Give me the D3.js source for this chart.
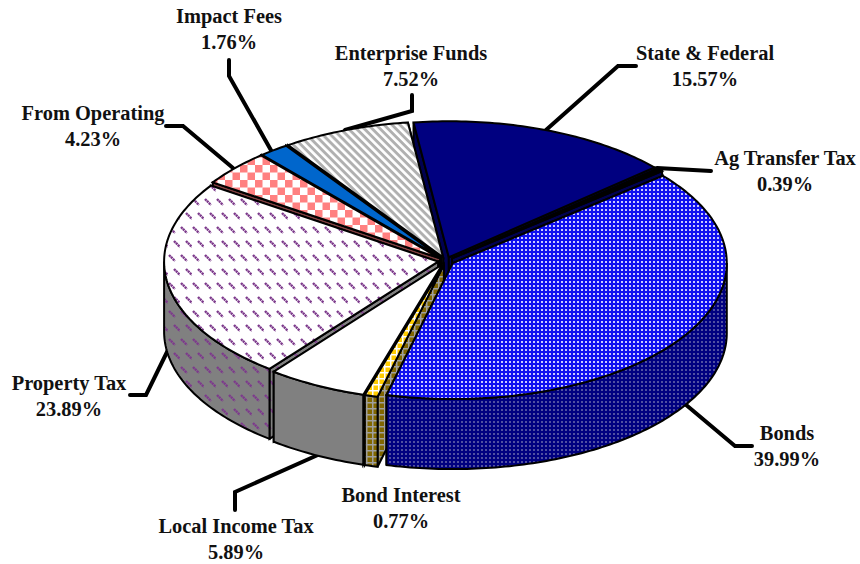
<!DOCTYPE html>
<html>
<head>
<meta charset="utf-8">
<script src="https://cdn.jsdelivr.net/npm/d3@7"></script>
<style>
  html, body { margin: 0; padding: 0; background: #fff; }
  text { font-family: "Liberation Serif", serif; font-weight: bold; font-size: 20.4px; fill: #111; text-anchor: middle; }
</style>
</head>
<body>
<div id="pie-visualization"></div>
<script>
// values
var categories = ["State & Federal", "Ag Transfer Tax", "Bonds", "Bond Interest", "Local Income Tax",
  "Property Tax", "From Operating", "Impact Fees", "Enterprise Funds"];
var percents = [15.57, 0.39, 39.99, 0.77, 5.89, 23.89, 4.23, 1.76, 7.52];

// style of each slice, same order as categories
var topFills = ["#000080", "#000000", "url(#bondsTop)", "url(#goldTop)", "#ffffff",
  "url(#propTop)", "url(#checkTop)", "#0066cc", "url(#stripeTop)"];
var wallFills = ["#000050", "#000050", "url(#bondsWall)", "url(#goldWall)", "#808080",
  "url(#propWall)", "#804040", "#003366", "#3a3a3a"];

// back to front, the way the slices overlap in the picture
var drawOrder = [0, 1, 8, 7, 6, 5, 4, 3, 2];

// label centre + first baseline, and leader polyline (label end first)
var labelPos = [[705, 60], [785, 165], [787, 440], [401, 502], [236, 533], [69, 390], [93, 120], [229, 23], [411, 60]];
var leaders = [
  [[636, 66], [618, 66], [546, 130]],
  [[711, 171], [657, 168]],
  [[752, 446], [735, 446], [685, 404]],
  [],
  [[235, 510], [235, 492], [320, 454]],
  [[130, 395], [146, 395], [168, 350]],
  [[166, 126], [183, 126], [233, 168]],
  [[229, 60], [229, 76], [272, 152]],
  [[412, 95], [412, 111], [345, 130]]
];

var width = 860, height = 564;
var cx = 446, cy = 261, rx = 274, ry = 136, depth = 70, explode = 8;
var startDeg = -7.4;

var svg = d3.select("#pie-visualization").append("svg")
  .attr("width", width)
  .attr("height", height)
  .style("display", "block");

// fill patterns
var defs = svg.append("defs");

function addPattern(id, w, h, bg, transform) {
  var p = defs.append("pattern")
    .attr("id", id)
    .attr("patternUnits", "userSpaceOnUse")
    .attr("width", w)
    .attr("height", h);
  if (transform) p.attr("patternTransform", transform);
  p.append("rect").attr("width", w).attr("height", h).attr("fill", bg);
  return p;
}

function dots(id, bg, dot) {
  addPattern(id, 4, 4, bg).append("rect")
    .attr("x", 1).attr("y", 1).attr("width", 2).attr("height", 2).attr("fill", dot);
}
dots("bondsTop", "#0f0ff0", "#c8c8ff");
dots("bondsWall", "#000080", "#5050a0");

function grid(id, bg, line) {
  var p = addPattern(id, 6, 6, bg);
  p.append("rect").attr("x", 0).attr("y", 0).attr("width", 6).attr("height", 1.5).attr("fill", line);
  p.append("rect").attr("x", 0).attr("y", 0).attr("width", 1.5).attr("height", 6).attr("fill", line);
}
grid("goldTop", "#ffcc00", "#ffffff");
grid("goldWall", "#806600", "#a0a0a0");

function dashes(id, bg) {
  var p = addPattern(id, 12, 28, bg);
  [[1, 3], [6, 17]].forEach(function (o) {
    p.append("line")
      .attr("x1", o[0]).attr("y1", o[1]).attr("x2", o[0] + 6).attr("y2", o[1] + 6)
      .attr("stroke", "#7d3a8c")
      .attr("stroke-width", 2.4)
      .attr("stroke-dasharray", "2.2 0.5");
  });
}
dashes("propTop", "#ffffff");
dashes("propWall", "#808080");

var check = addPattern("checkTop", 15, 15, "#ffffff");
check.append("rect").attr("width", 7.5).attr("height", 7.5).attr("fill", "#ff8080");
check.append("rect").attr("x", 7.5).attr("y", 7.5).attr("width", 7.5).attr("height", 7.5).attr("fill", "#ff8080");

addPattern("stripeTop", 5.6, 5.6, "#ffffff", "rotate(45)").append("rect")
  .attr("width", 5.6).attr("height", 2.9).attr("fill", "#b0b0b0");

// slice angles in degrees, clockwise from the back of the pie
var slices = d3.pie().sort(null)
  .startAngle(startDeg * Math.PI / 180)
  .endAngle((startDeg + 360) * Math.PI / 180)(percents)
  .map(function (d) {
    return { index: d.index, a0: d.startAngle * 180 / Math.PI, a1: d.endAngle * 180 / Math.PI };
  });

function toPoint(deg, r, ox, oy, dz) {
  var t = deg * Math.PI / 180;
  return [cx + ox + r * rx * Math.sin(t), cy + oy - r * ry * Math.cos(t) + dz];
}

function arcPoints(a0, a1, ox, oy, dz) {
  var pts = d3.range(a0, a1, 1).map(function (a) { return toPoint(a, 1, ox, oy, dz); });
  pts.push(toPoint(a1, 1, ox, oy, dz));
  return pts;
}

var line = d3.line();
function poly(pts, fill) {
  return svg.append("path")
    .attr("d", line(pts) + "Z")
    .attr("fill", fill)
    .attr("stroke", "#000")
    .attr("stroke-width", 2)
    .attr("stroke-linejoin", "miter");
}

// leader lines sit under the pie
leaders.forEach(function (pts) {
  if (!pts.length) return;
  svg.append("path")
    .attr("d", line(pts))
    .attr("fill", "none")
    .attr("stroke", "#000")
    .attr("stroke-width", 4)
    .attr("stroke-linecap", "round");
});

drawOrder.forEach(function (i) {
  var s = slices[i];
  var mid = (s.a0 + s.a1) / 2 * Math.PI / 180;
  var ox = explode * Math.sin(mid);
  var oy = -explode * Math.cos(mid) * ry / rx;
  var apex = [cx + ox, cy + oy];
  var apexLow = [cx + ox, cy + oy + depth];

  // cut faces, the one turned away from the viewer first
  var cuts = [
    { a: s.a0, facing: Math.cos((s.a0 - 90) * Math.PI / 180) },
    { a: s.a1, facing: Math.cos((s.a1 + 90) * Math.PI / 180) }
  ].sort(function (p, q) { return q.facing - p.facing; });

  cuts.forEach(function (c) {
    poly([apex, toPoint(c.a, 1, ox, oy, 0), toPoint(c.a, 1, ox, oy, depth), apexLow], wallFills[i]);
  });

  // outer wall, front half only
  var w0 = Math.max(s.a0, 90), w1 = Math.min(s.a1, 270);
  if (w1 > w0) {
    poly(arcPoints(w0, w1, ox, oy, 0).concat(arcPoints(w0, w1, ox, oy, depth).reverse()), wallFills[i]);
  }

  // top face
  poly([apex].concat(arcPoints(s.a0, s.a1, ox, oy, 0)), topFills[i]);
});

// labels
categories.forEach(function (name, i) {
  svg.append("text").attr("x", labelPos[i][0]).attr("y", labelPos[i][1]).text(name);
  svg.append("text").attr("x", labelPos[i][0]).attr("y", labelPos[i][1] + 26).text(percents[i].toFixed(2) + "%");
});
</script>
</body>
</html>
